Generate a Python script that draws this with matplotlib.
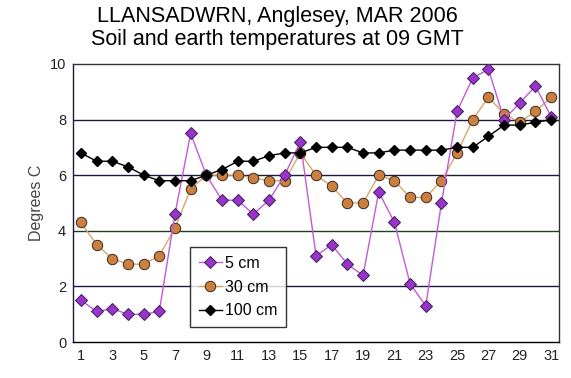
import matplotlib
matplotlib.use('Agg')
import matplotlib.pyplot as plt

plt.rcParams['font.family'] = ['Liberation Sans', 'DejaVu Sans']

# 데이터 (MAR 2006, 09 GMT)
days = list(range(1, 32))
t5 = [1.5, 1.1, 1.2, 1.0, 1.0, 1.1, 4.6, 7.5, 6.0, 5.1, 5.1, 4.6, 5.1, 6.0, 7.2, 3.1,
      3.5, 2.8, 2.4, 5.4, 4.3, 2.1, 1.3, 5.0, 8.3, 9.5, 9.8, 8.0, 8.6, 9.2, 8.1]
t30 = [4.3, 3.5, 3.0, 2.8, 2.8, 3.1, 4.1, 5.5, 6.0, 6.0, 6.0, 5.9, 5.8, 5.8, 6.8, 6.0,
       5.6, 5.0, 5.0, 6.0, 5.8, 5.2, 5.2, 5.8, 6.8, 8.0, 8.8, 8.2, 7.9, 8.3, 8.8]
t100 = [6.8, 6.5, 6.5, 6.3, 6.0, 5.8, 5.8, 5.8, 6.0, 6.2, 6.5, 6.5, 6.7, 6.8, 6.8, 7.0,
        7.0, 7.0, 6.8, 6.8, 6.9, 6.9, 6.9, 6.9, 7.0, 7.0, 7.4, 7.8, 7.8, 7.9, 8.0]
xticks = list(range(1, 32, 2))
yticks = [0, 2, 4, 6, 8, 10]

fig = plt.figure(figsize=(5.71, 3.78), dpi=100)
ax = fig.add_axes([0.128, 0.095, 0.851, 0.736])

# 격자선
for v in [2, 6, 8]:
    ax.axhline(v, color='#1a1a40', linewidth=1.0, zorder=1)
ax.axhline(4, color='#1f3f1f', linewidth=1.0, zorder=1)

ax.plot(days, t5, color='#c45ad6', linewidth=1.0, marker='D', markersize=6.5,
        markerfacecolor='#9933cc', markeredgecolor='#3a2050', markeredgewidth=0.7,
        label='5 cm', zorder=4)
ax.plot(days, t30, color='#dba56a', linewidth=1.0, marker='o', markersize=7.5,
        markerfacecolor='#cc8040', markeredgecolor='#3a2a20', markeredgewidth=0.7,
        label='30 cm', zorder=3)
ax.plot(days, t100, color='black', linewidth=1.0, marker='D', markersize=5,
        markerfacecolor='black', markeredgecolor='black', label='100 cm', zorder=5)

ax.set_xlim(0.5, 31.5)
ax.set_ylim(0, 10)
ax.set_xticks(xticks)
ax.set_yticks(yticks)
ax.tick_params(axis='both', labelsize=10.5, length=0, pad=5, colors='#222222')
for s in ax.spines.values():
    s.set_color('#333333')
    s.set_linewidth(1.0)
ax.spines['left'].set_color('#1a1a40')
ax.spines['bottom'].set_color('black')

ax.set_ylabel('Degrees C', fontsize=11.5, color='#444444', labelpad=4)

leg = ax.legend(loc='lower left', bbox_to_anchor=(0.225, 0.025), fontsize=11.5,
                frameon=True, fancybox=False, handlelength=1.4, handletextpad=0.2,
                borderpad=0.55, labelspacing=0.55)
leg.get_frame().set_edgecolor('black')
leg.get_frame().set_linewidth(1.0)

fig.text(0.485, 0.957, 'LLANSADWRN, Anglesey, MAR 2006', ha='center', va='center', fontsize=15.5)
fig.text(0.485, 0.895, 'Soil and earth temperatures at 09 GMT', ha='center', va='center', fontsize=15.5)

plt.savefig('out.png', dpi=100)
